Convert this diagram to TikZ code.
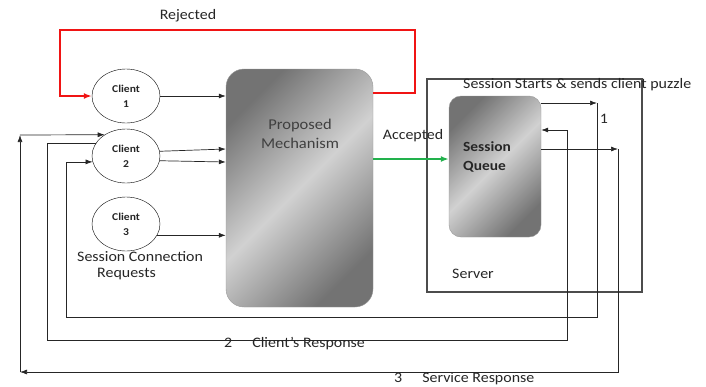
\documentclass[tikz,border=0pt]{standalone}
\usepackage{fontspec}
\setmainfont{Carlito}[FakeStretch=1.1]
\usetikzlibrary{arrows.meta,shapes.geometric}
\definecolor{rejred}{RGB}{240,20,20}
\definecolor{accgreen}{RGB}{34,177,76}
\begin{document}
\begin{tikzpicture}[x=1pt, y=-1pt,
      every node/.append style={font=\fontsize{14.5}{19}\selectfont, text=black!85},
      client/.style={draw, ellipse, minimum width=68pt, minimum height=54pt, inner sep=0pt,
        align=center, font=\fontsize{10.5}{15}\selectfont\bfseries},
      mechbox/.style={draw=black!40, shading=axis, top color=black!55, bottom color=black!55,
        middle color=black!18, shading angle=45, inner sep=0pt},
      arr/.style={-{Latex[length=7pt,width=5pt]}, black!85, line width=0.7pt},
      rejected/.style={-{Latex[length=8pt,width=6pt]}, rejred, line width=1.8pt},
      accepted/.style={-{Latex[length=8pt,width=6pt]}, accgreen, line width=2pt}]
    \useasboundingbox (0,0) rectangle (706,386);
    \node (server) [draw=black!70, line width=1.1pt, minimum width=215pt, minimum height=213pt] at (534.5,185.5) {};
    \node (pm) [mechbox, rounded corners=18pt, minimum width=147pt, minimum height=238pt] at (299.5,188) {};
    \node (sq) [mechbox, rounded corners=12pt, minimum width=92pt, minimum height=141pt] at (495,166.5) {};
    \node (pmtext) [align=center, font=\fontsize{15}{19}\selectfont, text=black!75] at (300,134) {Proposed\\Mechanism};
    \node (sqtext) [align=left, font=\fontsize{14}{19}\selectfont\bfseries] at (487,157) {Session\\Queue};
    \node (c1) [client] at (126,96) {Client\\1};
    \node (c2) [client] at (126,156) {Client\\2};
    \node (c3) [client] at (126,224) {Client\\3};
    \coordinate (rj1) at (415,93);
    \coordinate (rj2) at (60,30);
    \coordinate (l1a) at (597,103);
    \coordinate (l1b) at (66,317);
    \coordinate (l2a) at (47,340);
    \coordinate (l2b) at (567,130);
    \coordinate (l3a) at (618,149);
    \coordinate (l3b) at (20,372);
    \coordinate (l3c) at (20,135);
    \draw[rejected] (rj1 -| pm.east) -- (rj1) |- (rj2) |- (c1);
    \draw[accepted] (pm.east |- 0,159) -- (sq.west |- 0,159);
    \draw[arr] (c1) -- (c1 -| pm.west);
    \draw[arr] (c2.8) -- (pm.west |- 0,149);
    \draw[arr] (c2.-8) -- (pm.west |- 0,162);
    \draw[arr] (c3.-20) -- (pm.west |- c3.-20);
    \draw[arr] (sq.east |- l1a) -- (l1a);
    \draw[arr] (l1a) |- (l1b) |- (c2.190);
    \draw[arr] (c2.158) -| (l2a) -| (l2b) -- (sq.east |- l2b);
    \draw[arr] (sq.east |- l3a) -- (l3a);
    \draw[arr] (l3a) |- (l3b);
    \draw[arr] (l3b) -- (l3c);
    \draw[arr] (l3c) -- (c2.135);
    \node (rejlbl) at (188,16) {Rejected};
    \node (acclbl) at (413,136) {Accepted};
    \node (puzzle) [anchor=west, inner sep=0pt] at (463,85) {Session Starts \& sends client puzzle};
    \node (one) at (604,119) {1};
    \node (srvlbl) at (473,274) {Server};
    \node (req) [anchor=west, align=left, inner sep=0pt, font=\fontsize{14.5}{16}\selectfont] at (77,266) {Session Connection\\\hspace*{20pt}Requests};
    \node (two) [anchor=west, inner sep=0pt] at (224,344) {2\hspace{20pt}Client’s Response};
    \node (three) [anchor=west, inner sep=0pt] at (394,379) {3\hspace{20pt}Service Response};
\end{tikzpicture}
\end{document}
